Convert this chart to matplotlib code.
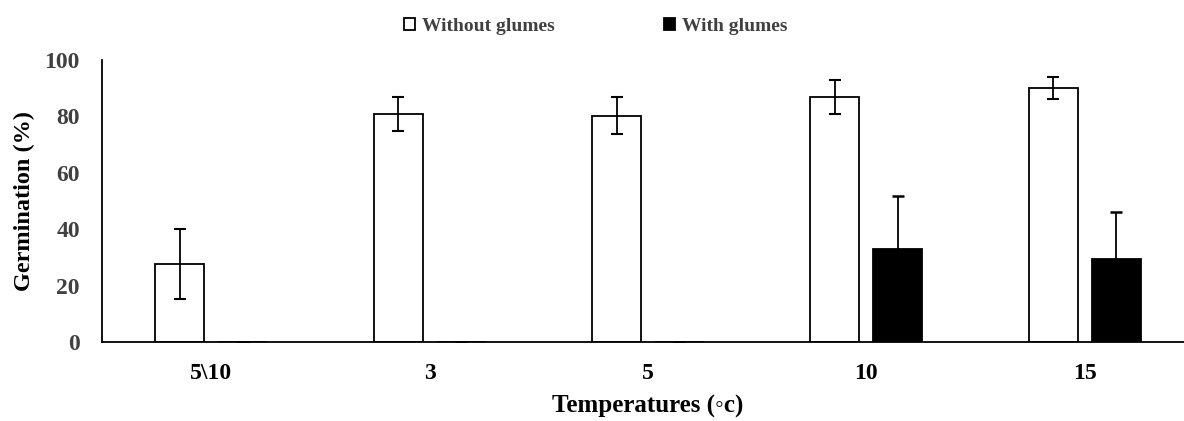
import numpy as np
import matplotlib
matplotlib.use("Agg")
import matplotlib.pyplot as plt

# -----------------------------
# Data
# -----------------------------
categories = ["5\\10", "3", "5", "10", "15"]
without_glumes = [27.6, 80.8, 80.2, 87.0, 90.2]
without_err = [12.4, 6.1, 6.6, 6.0, 3.9]
with_glumes = [0.0, 0.0, 0.0, 33.0, 29.4]
with_err = [0.0, 0.0, 0.0, 18.9, 16.8]

plt.rcParams["font.family"] = ["Liberation Serif", "DejaVu Serif"]
plt.rcParams["font.weight"] = "bold"

fig = plt.figure(figsize=(11.84, 4.21), dpi=100)
ax = fig.add_axes([102 / 1184, 1 - 342 / 421, 1092 / 1184, 282 / 421])

x = np.arange(len(categories))
w = 0.224
off = 0.144

ax.bar(x - off, without_glumes, w, color="white", edgecolor="black",
       linewidth=1.3, label="Without glumes", zorder=2)
ax.bar(x + off, with_glumes, w, color="black", edgecolor="black",
       linewidth=1.3, label="With glumes", zorder=2)
ax.errorbar(x - off, without_glumes, yerr=without_err, fmt="none",
            ecolor="black", elinewidth=1.3, capsize=4.5, capthick=1.5, zorder=3)
ax.errorbar(x + off, with_glumes, yerr=with_err, fmt="none",
            ecolor="black", elinewidth=1.3, capsize=4.5, capthick=1.8, zorder=3)

ax.set_xlim(-0.5, 4.5)
ax.set_ylim(0, 100)
ax.set_yticks(range(0, 101, 20))
ax.set_xticks(x)
ax.set_xticklabels(categories, fontsize=17, fontweight="bold")
ax.tick_params(axis="both", length=0)
ax.tick_params(axis="y", pad=16, labelsize=17, labelcolor="#404040")
ax.tick_params(axis="x", pad=15)
for lab in ax.get_yticklabels():
    lab.set_fontweight("bold")

ax.spines["top"].set_visible(False)
ax.spines["right"].set_visible(False)
ax.spines["left"].set_linewidth(1.3)
ax.spines["bottom"].set_linewidth(1.3)

ax.set_ylabel("Germination (%)", fontsize=17.5, fontweight="bold", labelpad=7)
ax.set_xlabel("Temperatures (\u25e6c)", fontsize=18, fontweight="bold", labelpad=8)

leg = fig.legend(loc="upper center", bbox_to_anchor=(0.503, 1.0), ncol=2,
                 frameon=False, fontsize=14, handlelength=0.6, handleheight=0.6,
                 handletextpad=0.35, columnspacing=5.6)
for t in leg.get_texts():
    t.set_color("#404040")
    t.set_fontweight("bold")

fig.savefig("out.png", dpi=100)
